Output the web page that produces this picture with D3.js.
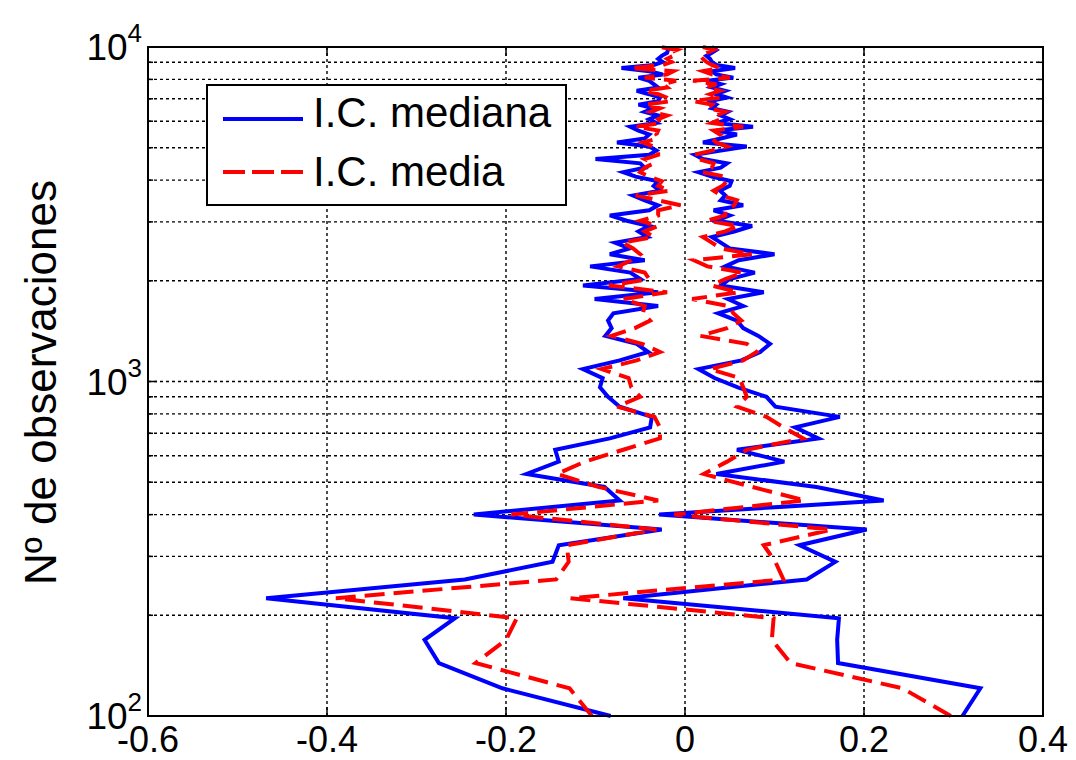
<!DOCTYPE html>
<html>
<head>
<meta charset="utf-8">
<script src="https://cdn.jsdelivr.net/npm/d3@7/dist/d3.min.js"></script>
<style>
  html, body { margin: 0; padding: 0; background: #fff; }
  svg { display: block; }
  text { font-family: "Liberation Sans", Arial, Helvetica, sans-serif; fill: #000; }
</style>
</head>
<body>
<svg id="chart" width="1076" height="760"></svg>
<script>
// Number of observations (y axis, log scale)
const observaciones = [100,121,144,169,196,225,256,289,324,361,400,441,484,529,576,625,676,729,784,841,900,961,1024,1089,1156,1225,1296,1369,1444,1521,1600,1681,1764,1849,1936,2025,2116,2209,2304,2401,2500,2601,2704,2809,2916,3025,3136,3249,3364,3481,3600,3721,3844,3969,4096,4225,4356,4489,4624,4761,4900,5041,5184,5329,5476,5625,5776,5929,6084,6241,6400,6561,6724,6889,7056,7225,7396,7569,7744,7921,8100,8281,8464,8649,8836,9025,9216,9409,9604,9801,10000];

// I.C. mediana (blue, solid): lower and upper bounds
const medianaInf = [
  -0.083,-0.204,-0.275,-0.291,-0.257,-0.468,-0.246,-0.148,-0.141,-0.026,
  -0.236,-0.073,-0.090,-0.177,-0.141,-0.145,-0.084,-0.039,-0.037,-0.073,
  -0.086,-0.095,-0.092,-0.114,-0.073,-0.041,-0.054,-0.089,-0.082,-0.086,
  -0.080,-0.030,-0.101,-0.030,-0.114,-0.050,-0.061,-0.106,-0.045,-0.084,
  -0.062,-0.078,-0.042,-0.052,-0.040,-0.065,-0.084,-0.040,-0.030,-0.045,
  -0.058,-0.028,-0.035,-0.030,-0.055,-0.069,-0.045,-0.050,-0.100,-0.040,
  -0.032,-0.040,-0.076,-0.045,-0.040,-0.052,-0.061,-0.032,-0.040,-0.030,
  -0.045,-0.035,-0.052,-0.030,-0.028,-0.040,-0.054,-0.030,-0.035,-0.040,
  -0.052,-0.025,-0.040,-0.071,-0.035,-0.025,-0.030,-0.026,-0.020,-0.019,
  -0.018];
const medianaSup = [
  0.310,0.330,0.171,0.170,0.172,-0.069,0.136,0.168,0.128,0.203,
  -0.029,0.222,0.147,0.035,0.111,0.058,0.149,0.123,0.173,0.101,
  0.091,0.059,0.033,0.015,0.063,0.084,0.095,0.082,0.065,0.058,
  0.037,0.065,0.048,0.088,0.040,0.050,0.078,0.045,0.060,0.100,
  0.050,0.040,0.030,0.055,0.075,0.035,0.050,0.032,0.065,0.040,
  0.045,0.039,0.050,0.052,0.030,0.015,0.040,0.047,0.020,0.011,
  0.040,0.069,0.020,0.040,0.058,0.035,0.076,0.035,0.050,0.040,
  0.048,0.030,0.035,0.028,0.047,0.035,0.045,0.030,0.040,0.025,
  0.054,0.035,0.030,0.056,0.035,0.030,0.028,0.024,0.030,0.035,
  0.030];

// I.C. media (red, dashed): lower and upper bounds
const mediaInf = [
  -0.104,-0.129,-0.234,-0.200,-0.188,-0.390,-0.144,-0.130,-0.132,-0.032,
  -0.194,-0.030,-0.097,-0.143,-0.112,-0.069,-0.028,-0.028,-0.034,-0.076,
  -0.050,-0.060,-0.063,-0.093,-0.054,-0.028,-0.048,-0.082,-0.056,-0.039,
  -0.047,-0.045,-0.069,-0.020,-0.085,-0.040,-0.045,-0.075,-0.060,-0.050,
  -0.058,-0.070,-0.035,-0.045,-0.030,-0.050,-0.030,-0.030,-0.005,-0.030,
  -0.055,-0.017,-0.030,-0.026,-0.040,-0.050,-0.045,-0.035,-0.045,-0.030,
  -0.030,-0.035,-0.047,-0.030,-0.032,-0.030,-0.055,-0.025,-0.030,-0.020,
  -0.038,-0.028,-0.045,-0.015,-0.020,-0.030,-0.045,-0.020,-0.025,-0.010,
  -0.045,-0.020,-0.013,-0.061,-0.025,-0.015,-0.020,-0.013,-0.017,-0.009,
  -0.028];
const mediaSup = [
  0.297,0.243,0.118,0.097,0.099,-0.128,0.110,0.101,0.088,0.164,
  -0.012,0.134,0.075,0.021,0.047,0.069,0.132,0.110,0.091,0.058,
  0.069,0.065,0.061,0.028,0.065,0.080,0.069,0.017,0.047,0.063,
  0.054,0.049,0.008,0.060,0.030,0.045,0.065,0.025,0.010,0.075,
  0.040,0.030,0.020,0.045,0.060,0.025,0.045,0.045,0.055,0.058,
  0.040,0.032,0.042,0.047,0.045,0.020,0.030,0.032,0.015,0.010,
  0.030,0.047,0.035,0.030,0.039,0.032,0.065,0.030,0.040,0.035,
  0.045,0.025,0.030,0.009,0.040,0.028,0.039,0.024,0.035,0.009,
  0.050,0.030,0.020,0.039,0.030,0.024,0.020,0.017,0.024,0.032,
  0.020];

const xTicks = [-0.6, -0.4, -0.2, 0, 0.2, 0.4];
const xTickLabels = ["-0.6", "-0.4", "-0.2", "0", "0.2", "0.4"];
const yMajor = [100, 1000, 10000];
const yMajorExp = ["2", "3", "4"];
const yMinor = [200,300,400,500,600,700,800,900,2000,3000,4000,5000,6000,7000,8000,9000];
const legendLabels = ["I.C. mediana", "I.C. media"];
const yLabel = "Nº de observaciones";

const svg = d3.select("#chart");
const L = 148, R = 1043, T = 47, B = 716;
const x = d3.scaleLinear().domain([-0.6, 0.4]).range([L, R]);
const y = d3.scaleLog().domain([100, 10000]).range([B, T]);

// grid
const grid = svg.append("g").attr("stroke", "#000").attr("stroke-width", 1.4).attr("stroke-dasharray", "3,3");
xTicks.filter(t => t > -0.6 && t < 0.4).forEach(t => {
  grid.append("line").attr("x1", x(t)).attr("x2", x(t)).attr("y1", T).attr("y2", B);
});
yMinor.concat([1000]).forEach(v => {
  grid.append("line").attr("x1", L).attr("x2", R).attr("y1", y(v)).attr("y2", y(v));
});

// ticks (inward, all four sides)
const tk = svg.append("g").attr("stroke", "#000").attr("stroke-width", 1.5);
xTicks.forEach(t => {
  tk.append("line").attr("x1", x(t)).attr("x2", x(t)).attr("y1", B).attr("y2", B - 9);
  tk.append("line").attr("x1", x(t)).attr("x2", x(t)).attr("y1", T).attr("y2", T + 9);
});
yMajor.forEach(v => {
  tk.append("line").attr("x1", L).attr("x2", L + 9).attr("y1", y(v)).attr("y2", y(v));
  tk.append("line").attr("x1", R).attr("x2", R - 9).attr("y1", y(v)).attr("y2", y(v));
});
yMinor.forEach(v => {
  tk.append("line").attr("x1", L).attr("x2", L + 5).attr("y1", y(v)).attr("y2", y(v));
  tk.append("line").attr("x1", R).attr("x2", R - 5).attr("y1", y(v)).attr("y2", y(v));
});

// data lines
const line = d3.line().x(d => x(d[0])).y(d => y(d[1]));
function series(vals) { return vals.map((v, i) => [v, observaciones[i]]); }
const plot = svg.append("g").attr("fill", "none").attr("stroke-linejoin", "miter").attr("stroke-miterlimit", 4);
[medianaInf, medianaSup].forEach(s => {
  plot.append("path").attr("d", line(series(s))).attr("stroke", "#0000ff").attr("stroke-width", 4);
});
[mediaInf, mediaSup].forEach(s => {
  plot.append("path").attr("d", line(series(s))).attr("stroke", "#ff0000").attr("stroke-width", 4)
    .attr("stroke-dasharray", "20,9");
});

// box
svg.append("rect").attr("x", L).attr("y", T).attr("width", R - L).attr("height", B - T)
  .attr("fill", "none").attr("stroke", "#000").attr("stroke-width", 2);

// x tick labels
svg.append("g").selectAll("text").data(xTicks).join("text")
  .attr("x", d => x(d)).attr("y", 752).attr("text-anchor", "middle")
  .attr("font-size", 36).text((d, i) => xTickLabels[i]);

// y tick labels 10^n
yMajor.forEach((v, i) => {
  const t = svg.append("text").attr("x", 142).attr("y", y(v) + 13).attr("text-anchor", "end").attr("font-size", 37);
  t.append("tspan").text("10");
  t.append("tspan").attr("dy", -18).attr("font-size", 26).text(yMajorExp[i]);
});

// y axis label
svg.append("text").attr("transform", `translate(56,${(T + B) / 2 + 1}) rotate(-90)`)
  .attr("text-anchor", "middle").attr("font-size", 44).text(yLabel);

// legend
const lg = svg.append("g");
lg.append("rect").attr("x", 207).attr("y", 85).attr("width", 359).attr("height", 120)
  .attr("fill", "#fff").attr("stroke", "#000").attr("stroke-width", 2);
lg.append("line").attr("x1", 223).attr("x2", 303).attr("y1", 119).attr("y2", 119)
  .attr("stroke", "#0000ff").attr("stroke-width", 4);
lg.append("line").attr("x1", 223).attr("x2", 303).attr("y1", 172).attr("y2", 172)
  .attr("stroke", "#ff0000").attr("stroke-width", 4).attr("stroke-dasharray", "22,7");
lg.append("text").attr("x", 313).attr("y", 127).attr("font-size", 42).text(legendLabels[0]);
lg.append("text").attr("x", 313).attr("y", 186).attr("font-size", 42).text(legendLabels[1]);
</script>
</body>
</html>
